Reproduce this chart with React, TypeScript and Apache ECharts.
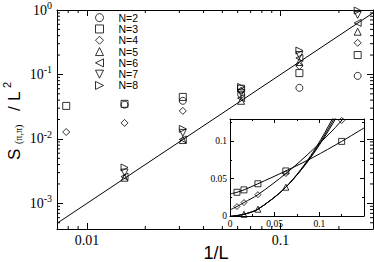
import React, { useEffect, useRef } from 'react';
import * as echarts from 'echarts';

// ---- data (main panel): x = 1/L ----
const invL = [1 / 128, 1 / 64, 1 / 32, 1 / 16, 1 / 8, 1 / 4];
const seriesNames = ['N=2', 'N=3', 'N=4', 'N=5', 'N=6', 'N=7', 'N=8'];
const sN2 = [null, 0.034, 0.039, 0.049, 0.062, 0.095];
const sN3 = [0.0325, 0.035, 0.0448, 0.06, 0.105, 0.2];
const sN4 = [0.0128, 0.0177, 0.0272, 0.056, 0.135, 0.31];
const sN5 = [null, 0.0025, 0.0096, 0.039, 0.156, 0.46];
const sN6 = [null, 0.0026, 0.0098, 0.043, 0.18, 0.63];
const sN7 = [null, 0.003, 0.0124, 0.052, 0.2, 0.84];
const sN8 = [null, 0.0036, 0.0143, 0.064, 0.235, 0.98];
const mainValues = [sN2, sN3, sN4, sN5, sN6, sN7, sN8];

// guide line S/L^2 ~ x^2
const guideX = [0.007, 0.3];
const guideY = [0.00049, 0.9];

// ticks
const xTickValues = [0.01, 0.1];
const xTickLabels = ['0.01', '0.1'];
const yTickValues = [1e-3, 1e-2, 1e-1, 1];
const yTickExp = ['-3', '-2', '-1', '0'];
const xMinor = [0.008, 0.009, 0.02, 0.03, 0.04, 0.05, 0.06, 0.07, 0.08, 0.09, 0.2];
const yMinor = [
  5e-4, 6e-4, 7e-4, 8e-4, 9e-4,
  2e-3, 3e-3, 4e-3, 5e-3, 6e-3, 7e-3, 8e-3, 9e-3,
  2e-2, 3e-2, 4e-2, 5e-2, 6e-2, 7e-2, 8e-2, 9e-2,
  0.2, 0.3, 0.4, 0.5, 0.6, 0.7, 0.8, 0.9,
];
const insetTickLabels = ['0', '0.05', '0.1'];

// ---- data (inset) ----
const insetX = [1 / 128, 1 / 64, 1 / 32, 1 / 16, 1 / 8];
const insetN3 = [0.0318, 0.035, 0.0432, 0.0604, 0.1];
const insetN4 = [0.0127, 0.018, 0.0286, 0.0569, 0.128];
const insetN5 = [null, 0.0023, 0.0091, 0.0386, null];
const fitX = [0, 1 / 128, 1 / 64, 1 / 32, 1 / 16, 3 / 32, 1 / 8, 0.15];
const fitN3 = [0.0295, 0.0318, 0.035, 0.0432, 0.0604, 0.079, 0.1, 0.118];
const fitN4 = [0.0082, 0.0127, 0.018, 0.0286, 0.0569, 0.09, 0.128, 0.17];
const fitA = [-0.0006, 0.0006, 0.0023, 0.0091, 0.0386, 0.087, 0.155, 0.23];
const fitB = [-0.0006, 0.0006, 0.0023, 0.0091, 0.0386, 0.085, 0.15, 0.22];
const fitC = [-0.0006, 0.0006, 0.0023, 0.0091, 0.0386, 0.084, 0.145, 0.21];

const TRI_LEFT = 'path://M0,5L10,0L10,10Z';
const TRI_DOWN = 'path://M0,0L10,0L5,10Z';
const TRI_RIGHT = 'path://M10,5L0,0L0,10Z';
const symbols = ['circle', 'rect', 'diamond', 'triangle', TRI_LEFT, TRI_DOWN, TRI_RIGHT];

const pairs = (xs: number[], ys: (number | null)[]) =>
  xs.map((x, i) => (ys[i] == null ? null : [x, ys[i] as number])).filter((p) => p !== null);

const BLACK = '#000';
const SERIF = '"Liberation Serif", "DejaVu Serif", serif';
const SANS = '"Liberation Sans", Arial, sans-serif';

export default function App() {
  const ref = useRef<HTMLDivElement>(null);
  useEffect(() => {
    if (!ref.current) return;
    const chart = echarts.init(ref.current, null, { renderer: 'svg' });
    const hollow = { color: 'rgba(0,0,0,0)', borderColor: BLACK, borderWidth: 1 };

    const logAxisCommon = (labels: boolean) => ({
      axisLine: { show: true, lineStyle: { color: BLACK, width: 1 } },
      axisTick: { show: true, inside: true, length: 6, lineStyle: { color: BLACK, width: 1 } },
      minorTick: { show: false },
      splitLine: { show: false },
      axisLabel: { show: labels },
    });

    const insetAxisCommon = {
      axisLine: { show: true, onZero: false, lineStyle: { color: BLACK, width: 1 } },
      axisTick: { show: true, inside: true, length: 4, lineStyle: { color: BLACK, width: 1 } },
      minorTick: { show: true, splitNumber: 2, length: 2, lineStyle: { color: BLACK, width: 1 } },
      splitLine: { show: false },
      minorSplitLine: { show: false },
    };

    const insetFmt = (v: number) => {
      const s = String(Math.round(v * 1000) / 1000);
      return insetTickLabels.includes(s) ? s : '';
    };

    const mainScatter = seriesNames.map((name, k) => ({
      type: 'scatter',
      name,
      xAxisIndex: 0,
      yAxisIndex: 0,
      data: pairs(invL, mainValues[k]),
      symbol: symbols[k],
      symbolSize: 7,
      itemStyle: hollow,
      emphasis: { disabled: true },
      z: 4,
    }));

    const fitLine = (ys: number[]) => ({
      type: 'line',
      xAxisIndex: 2,
      yAxisIndex: 2,
      data: pairs(fitX, ys),
      smooth: 0.3,
      symbol: 'none',
      showSymbol: false,
      clip: true,
      lineStyle: { color: BLACK, width: 1 },
      emphasis: { disabled: true },
      z: 6,
    });

    const insetScatter = (name: string, ys: (number | null)[], sym: string) => ({
      type: 'scatter',
      name,
      xAxisIndex: 2,
      yAxisIndex: 2,
      data: pairs(insetX, ys),
      symbol: sym,
      symbolSize: 6,
      itemStyle: hollow,
      clip: true,
      emphasis: { disabled: true },
      z: 7,
    });

    const tickStyle = { stroke: BLACK, lineWidth: 1 };

    const option: any = {
      animation: false,
      backgroundColor: '#fff',
      grid: [
        { left: 57, top: 10, width: 316, height: 219, outerBoundsMode: 'none', containLabel: false },
        {
          left: 230, top: 119, width: 134, height: 97, outerBoundsMode: 'none', containLabel: false,
          show: true, backgroundColor: '#fff', borderWidth: 0,
        },
      ],
      xAxis: [
        {
          type: 'log', gridIndex: 0, min: 0.007, max: 0.3, position: 'bottom',
          ...logAxisCommon(true),
          axisLabel: {
            show: true, color: BLACK, fontFamily: SERIF, fontSize: 14, margin: 4,
            formatter: (v: number) => {
              const i = xTickValues.findIndex((t) => Math.abs(v / t - 1) < 1e-6);
              return i >= 0 ? xTickLabels[i] : '';
            },
          },
        },
        { type: 'log', gridIndex: 0, min: 0.007, max: 0.3, position: 'top', ...logAxisCommon(false) },
        {
          type: 'value', gridIndex: 1, min: 0, max: 0.15, interval: 0.05, position: 'bottom',
          ...insetAxisCommon,
          axisLabel: { color: BLACK, fontFamily: SERIF, fontSize: 9.5, margin: 3, formatter: insetFmt },
        },
        {
          type: 'value', gridIndex: 1, min: 0, max: 0.15, interval: 0.05, position: 'top',
          ...insetAxisCommon, axisLabel: { show: false },
        },
      ],
      yAxis: [
        {
          type: 'log', gridIndex: 0, min: 4e-4, max: 1, position: 'left',
          ...logAxisCommon(true),
          axisLabel: {
            show: true, color: BLACK, margin: 5,
            formatter: (v: number) => {
              const i = yTickValues.findIndex((t) => Math.abs(v / t - 1) < 1e-6);
              return i >= 0 ? `{b|10}{s|${yTickExp[i]}}` : '';
            },
            rich: {
              b: { fontFamily: SERIF, fontSize: 14, color: BLACK },
              s: { fontFamily: SERIF, fontSize: 10, color: BLACK, padding: [0, 0, 9, 0] },
            },
          },
        },
        { type: 'log', gridIndex: 0, min: 4e-4, max: 1, position: 'right', ...logAxisCommon(false) },
        {
          type: 'value', gridIndex: 1, min: 0, max: 0.13, interval: 0.05, position: 'left',
          ...insetAxisCommon,
          axisLabel: { color: BLACK, fontFamily: SERIF, fontSize: 9.5, margin: 3, formatter: insetFmt },
        },
        {
          type: 'value', gridIndex: 1, min: 0, max: 0.13, interval: 0.05, position: 'right',
          ...insetAxisCommon, axisLabel: { show: false },
        },
      ],
      legend: {
        data: seriesNames,
        orient: 'vertical',
        left: 95,
        top: 12,
        padding: 0,
        itemGap: 0,
        itemWidth: 8,
        itemHeight: 8,
        selectedMode: false,
        itemStyle: { borderWidth: 1, borderColor: BLACK, color: 'rgba(0,0,0,0)' },
        textStyle: { fontFamily: SANS, fontSize: 10.5, color: BLACK, lineHeight: 11.3, padding: [0, 0, 0, 10] },
      },
      graphic: [
        {
          type: 'group', x: 14, y: 160, rotation: Math.PI / 2,
          children: [
            { type: 'text', x: 0, y: 0, style: { text: 'S', font: `17px ${SANS}`, fill: BLACK, align: 'left', verticalAlign: 'middle' } },
            { type: 'text', x: 16, y: 4, style: { text: '(π,π)', font: `10px ${SERIF}`, fill: BLACK, align: 'left', verticalAlign: 'middle' } },
            { type: 'text', x: 49, y: 0, style: { text: '/', font: `17px ${SANS}`, fill: BLACK, align: 'left', verticalAlign: 'middle' } },
            { type: 'text', x: 59, y: 0, style: { text: 'L', font: `17px ${SANS}`, fill: BLACK, align: 'left', verticalAlign: 'middle' } },
            { type: 'text', x: 72, y: -7, style: { text: '2', font: `11px ${SANS}`, fill: BLACK, align: 'left', verticalAlign: 'middle' } },
          ],
        },
        {
          type: 'text', x: 216, y: 253,
          style: { text: '1/L', font: `18px ${SANS}`, fill: BLACK, align: 'center', verticalAlign: 'middle' },
        },
      ],
      series: [
        {
          type: 'line', xAxisIndex: 0, yAxisIndex: 0,
          data: pairs(guideX, guideY), symbol: 'none', showSymbol: false, clip: true,
          lineStyle: { color: BLACK, width: 1 }, emphasis: { disabled: true }, z: 3,
        },
        ...mainScatter,
        {
          type: 'custom', xAxisIndex: 0, yAxisIndex: 0, silent: true, z: 2,
          data: xMinor.map((v) => [v, 0.01]),
          renderItem: (params: any, api: any) => {
            const cs = params.coordSys;
            const p = api.coord([api.value(0), api.value(1)]);
            const b = cs.y + cs.height;
            return {
              type: 'group',
              children: [
                { type: 'line', shape: { x1: p[0], y1: b, x2: p[0], y2: b - 3 }, style: tickStyle },
                { type: 'line', shape: { x1: p[0], y1: cs.y, x2: p[0], y2: cs.y + 3 }, style: tickStyle },
              ],
            };
          },
        },
        {
          type: 'custom', xAxisIndex: 0, yAxisIndex: 0, silent: true, z: 2,
          data: yMinor.map((v) => [0.01, v]),
          renderItem: (params: any, api: any) => {
            const cs = params.coordSys;
            const p = api.coord([api.value(0), api.value(1)]);
            const r = cs.x + cs.width;
            return {
              type: 'group',
              children: [
                { type: 'line', shape: { x1: cs.x, y1: p[1], x2: cs.x + 3, y2: p[1] }, style: tickStyle },
                { type: 'line', shape: { x1: r, y1: p[1], x2: r - 3, y2: p[1] }, style: tickStyle },
              ],
            };
          },
        },
        { ...fitLine(fitN3) },
        { ...fitLine(fitN4) },
        { ...fitLine(fitA) },
        { ...fitLine(fitB) },
        { ...fitLine(fitC) },
        insetScatter('inset N=3', insetN3, 'rect'),
        insetScatter('inset N=4', insetN4, 'diamond'),
        insetScatter('inset N=5', insetN5, 'triangle'),
      ],
    };
    chart.setOption(option);
    return () => chart.dispose();
  }, []);
  return (
    <div
      ref={ref}
      style={{ position: 'fixed', left: 0, top: 0, width: 374, height: 262, background: '#fff' }}
    />
  );
}
